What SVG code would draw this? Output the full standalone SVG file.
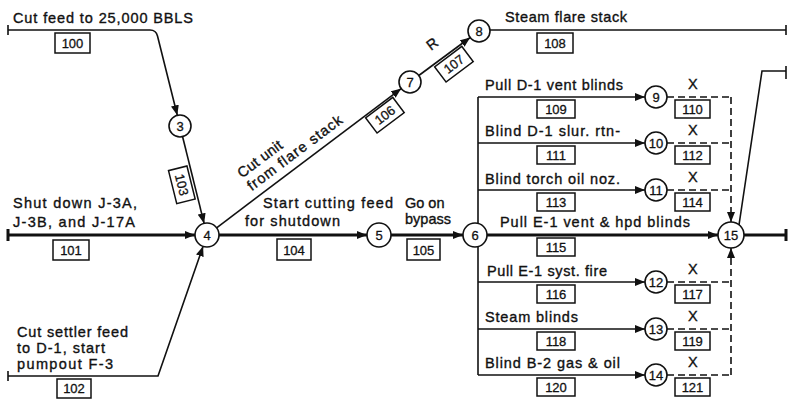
<svg xmlns="http://www.w3.org/2000/svg" width="792" height="399" viewBox="0 0 792 399">
<defs>
<marker id="ah" viewBox="0 0 10 8" refX="10" refY="4" markerWidth="10" markerHeight="8" markerUnits="userSpaceOnUse" orient="auto"><path d="M0,0 L10,4 L0,8 z" fill="#111"/></marker>
</defs>
<style>
.ln{fill:none;stroke:#111;stroke-width:1.6}
.th{fill:none;stroke:#111;stroke-width:3}
.ds{fill:none;stroke:#111;stroke-width:1.6;stroke-dasharray:7 4}
.nd circle{fill:#fff;stroke:#111;stroke-width:1.6}
.nd text{font-family:"Liberation Sans",Arial,sans-serif;font-size:13px;text-anchor:middle;fill:#111;stroke:#111;stroke-width:0.3}
.lb text{font-family:"Liberation Sans",Arial,sans-serif;font-size:14.5px;fill:#111;stroke:#111;stroke-width:0.35}
.bx rect{fill:#fff;stroke:#111;stroke-width:1.5}
.bx text{font-family:"Liberation Sans",Arial,sans-serif;font-size:13px;text-anchor:middle;fill:#111;stroke:#111;stroke-width:0.3}
</style>
<rect width="792" height="399" fill="#fff"/>
<g id="connectors">
<path class="ln" d="M8,25 V35 M8,371 V381 M786,25 V35 M786,66 V79"/>
<path class="th" d="M8,229 V241 M786,229 V241"/>
<path class="ln" d="M8,30 H150 Q156,30 157.5,36 L177.3,115.3" marker-end="url(#ah)"/>
<path class="th" d="M8,235 H195" marker-end="url(#ah)"/>
<path class="ln" d="M8,376 H158 L203.1,246.3" marker-end="url(#ah)"/>
<path class="ln" d="M182.6,136.7 L204.1,223.4" marker-end="url(#ah)"/>
<path class="th" d="M219,235 H367" marker-end="url(#ah)"/>
<path class="th" d="M391,235 H463" marker-end="url(#ah)"/>
<path class="ln" d="M216.6,227.8 L401.2,88.6" marker-end="url(#ah)"/>
<path class="ln" d="M418.8,75.5 L470.2,37.5" marker-end="url(#ah)"/>
<path class="ln" d="M490,30 H786"/>
<path class="ln" d="M478,97 V375"/>
<path class="ln" d="M478,97 H645" marker-end="url(#ah)"/>
<path class="ln" d="M478,143 H645" marker-end="url(#ah)"/>
<path class="ln" d="M478,190 H645" marker-end="url(#ah)"/>
<path class="ln" d="M478,282 H645" marker-end="url(#ah)"/>
<path class="ln" d="M478,329 H645" marker-end="url(#ah)"/>
<path class="ln" d="M478,375 H645" marker-end="url(#ah)"/>
<path class="th" d="M487,235 H718" marker-end="url(#ah)"/>
<path class="ds" d="M667,97 H731 M667,143 H731 M667,190 H731 M667,282 H731 M667,329 H731 M667,375 H731"/>
<path class="ds" d="M731,97 V222" marker-end="url(#ah)"/>
<path class="ds" d="M731,375 V248" marker-end="url(#ah)"/>
<path class="th" d="M744,235 H786"/>
<path class="ln" d="M739,225 L762,71 H786"/>
</g>
<g id="activity-boxes" class="bx">
<rect x="55" y="33" width="35" height="20"/><text x="72.5" y="48">100</text>
<rect x="53" y="240" width="36" height="20"/><text x="71" y="255">101</text>
<rect x="57" y="379" width="34" height="19"/><text x="74" y="393">102</text>
<g transform="translate(193,182) rotate(76)"><rect x="-17" y="2" width="34" height="19"/><text x="0" y="16">103</text></g>
<rect x="277" y="239" width="34" height="21"/><text x="294" y="254.5">104</text>
<rect x="407" y="239" width="33" height="21"/><text x="423.5" y="254.5">105</text>
<g transform="translate(378,106) rotate(-37)"><rect x="-17" y="2" width="34" height="19"/><text x="0" y="16">106</text></g>
<g transform="translate(447,55) rotate(-37)"><rect x="-17" y="2" width="34" height="19"/><text x="0" y="16">107</text></g>
<rect x="537" y="33" width="36" height="20"/><text x="555" y="48">108</text>
<rect x="537" y="100" width="38" height="18"/><text x="556" y="114">109</text>
<rect x="675" y="100" width="35" height="18"/><text x="692.5" y="114">110</text>
<rect x="537" y="146" width="38" height="18"/><text x="556" y="160">111</text>
<rect x="675" y="146" width="35" height="18"/><text x="692.5" y="160">112</text>
<rect x="537" y="193" width="38" height="18"/><text x="556" y="207">113</text>
<rect x="675" y="193" width="35" height="18"/><text x="692.5" y="207">114</text>
<rect x="537" y="238" width="38" height="18"/><text x="556" y="252">115</text>
<rect x="537" y="285" width="38" height="18"/><text x="556" y="299">116</text>
<rect x="675" y="285" width="35" height="18"/><text x="692.5" y="299">117</text>
<rect x="537" y="332" width="38" height="18"/><text x="556" y="346">118</text>
<rect x="675" y="332" width="35" height="18"/><text x="692.5" y="346">119</text>
<rect x="537" y="378" width="38" height="18"/><text x="556" y="392">120</text>
<rect x="675" y="378" width="35" height="18"/><text x="692.5" y="392">121</text>
</g>
<g id="labels" class="lb">
<text x="13" y="23" textLength="180">Cut feed to 25,000 BBLS</text>
<text x="13" y="208" textLength="124">Shut down J-3A,</text>
<text x="13" y="227" textLength="122">J-3B, and J-17A</text>
<text x="17" y="337" textLength="111">Cut settler feed</text>
<text x="17" y="353" textLength="88">to D-1, start</text>
<text x="17" y="369" textLength="96">pumpout F-3</text>
<text x="263" y="208" textLength="130">Start cutting feed</text>
<text x="245" y="226" textLength="95">for shutdown</text>
<text x="405" y="208">Go on</text>
<text x="405" y="224">bypass</text>
<g transform="translate(207,235) rotate(-37)">
<text x="62" y="-24" textLength="52">Cut unit</text>
<text x="62" y="-8" textLength="115">from flare stack</text>
</g>
<text transform="translate(431,51) rotate(-37)">R</text>
<text x="505" y="22" textLength="122">Steam flare stack</text>
<text x="485" y="90" textLength="138">Pull D-1 vent blinds</text>
<text x="485" y="136" textLength="135">Blind D-1 slur. rtn-</text>
<text x="485" y="184" textLength="135">Blind torch oil noz.</text>
<text x="500" y="227" textLength="190">Pull E-1 vent &amp; hpd blinds</text>
<text x="487" y="276" textLength="120">Pull E-1 syst. fire</text>
<text x="485" y="322" textLength="93">Steam blinds</text>
<text x="485" y="368" textLength="135">Blind B-2 gas &amp; oil</text>
<text x="688" y="89">X</text>
<text x="688" y="135">X</text>
<text x="688" y="182">X</text>
<text x="688" y="274">X</text>
<text x="688" y="321">X</text>
<text x="688" y="367">X</text>
</g>
<g id="node-3" class="nd"><circle cx="180" cy="126" r="11"/><text x="180" y="130.5">3</text></g>
<g id="node-4" class="nd"><circle cx="207" cy="235" r="12"/><text x="207" y="239.5">4</text></g>
<g id="node-5" class="nd"><circle cx="379" cy="235" r="12"/><text x="379" y="239.5">5</text></g>
<g id="node-6" class="nd"><circle cx="475" cy="235" r="12"/><text x="475" y="239.5">6</text></g>
<g id="node-7" class="nd"><circle cx="410" cy="82" r="11"/><text x="410" y="86.5">7</text></g>
<g id="node-8" class="nd"><circle cx="479" cy="31" r="11"/><text x="479" y="35.5">8</text></g>
<g id="node-9" class="nd"><circle cx="656" cy="97" r="11"/><text x="656" y="101.5">9</text></g>
<g id="node-10" class="nd"><circle cx="656" cy="143" r="11"/><text x="656" y="147.5">10</text></g>
<g id="node-11" class="nd"><circle cx="656" cy="190" r="11"/><text x="656" y="194.5">11</text></g>
<g id="node-12" class="nd"><circle cx="656" cy="282" r="11"/><text x="656" y="286.5">12</text></g>
<g id="node-13" class="nd"><circle cx="656" cy="329" r="11"/><text x="656" y="333.5">13</text></g>
<g id="node-14" class="nd"><circle cx="656" cy="375" r="11"/><text x="656" y="379.5">14</text></g>
<g id="node-15" class="nd"><circle cx="731" cy="235" r="13"/><text x="731" y="239.5">15</text></g>
</svg>
